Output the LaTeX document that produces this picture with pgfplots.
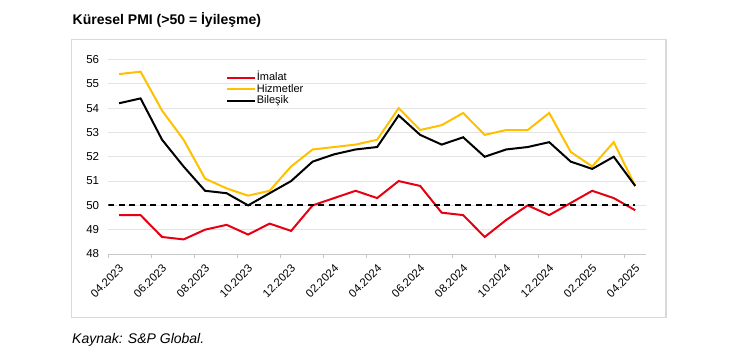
\documentclass[border=0pt]{standalone}
\usepackage{fontspec}
\setmainfont{Liberation Sans}
\usepackage{pgfplots}
\pgfplotsset{compat=1.18}
\definecolor{imalat}{RGB}{230,0,18}
\definecolor{hizmet}{RGB}{255,192,0}
\definecolor{framegray}{RGB}{217,217,217}
\definecolor{gridgray}{RGB}{228,228,228}
\definecolor{axisgray}{RGB}{200,200,200}
\begin{document}
\begin{tikzpicture}
\path[use as bounding box] (0,0) rectangle (740pt,354pt);
\draw[framegray, line width=1.5pt] (71.7pt,36.5pt) rectangle (666pt,314.7pt);
\node[anchor=base west, inner sep=0pt, font=\bfseries\fontsize{14}{16}\selectfont] at (72.5pt,329pt) {Küresel PMI (>50 = İyileşme)};
\node[anchor=base west, inner sep=0pt, font=\itshape\fontsize{14}{16}\selectfont] at (72pt,10.7pt) {Kaynak: S\&P Global.};
\begin{axis}[
  at={(108.3pt,100pt)}, anchor=south west,
  width=537.7pt, height=194.5pt, scale only axis,
  xmin=-0.5, xmax=24.5, ymin=48, ymax=56,
  ytick={48,49,...,56},
  xtick={0,2,...,24},
  xticklabels={04.2023,06.2023,08.2023,10.2023,12.2023,02.2024,04.2024,06.2024,08.2024,10.2024,12.2024,02.2025,04.2025},
  minor xtick={-0.5,1.5,...,23.5},
  major tick length=0pt,
  minor tick length=4pt,
  tick align=outside,
  minor tick style={axisgray, line width=0.8pt},
  axis x line*=bottom, axis y line*=left,
  x axis line style={axisgray, line width=0.8pt, -},
  y axis line style={draw=none},
  ymajorgrids, grid style={gridgray, line width=0.8pt},
  /pgf/number format/assume math mode=true,
  tick label style={font=\fontsize{11.5}{13}\selectfont},
  yticklabel style={anchor=east, inner sep=0pt, xshift=-9pt},
  xticklabel style={font=\fontsize{11.3}{13}\selectfont, xshift=-0.5pt, yshift=-9.5pt, rotate=45, anchor=north east, inner sep=0pt},
  legend style={at={(0.219,0.935)}, anchor=north west, draw=none, fill=none,
    font=\fontsize{11}{12}\selectfont, row sep=0pt, inner sep=0pt,
    nodes={inner sep=0.6pt, text height=8pt, text depth=2.2pt}},
  legend cell align=left,
  legend image code/.code={\draw[#1, line width=2pt] (0pt,0pt) -- (28pt,0pt);},
]
\addplot[imalat, line width=2pt] coordinates {
(0,49.6) (1,49.6) (2,48.7) (3,48.6) (4,49.0) (5,49.2) (6,48.8) (7,49.25) (8,48.95)
(9,50.0) (10,50.3) (11,50.6) (12,50.3) (13,51.0) (14,50.8) (15,49.7) (16,49.6)
(17,48.7) (18,49.4) (19,50.0) (20,49.6) (21,50.1) (22,50.6) (23,50.3) (24,49.8)};
\addlegendentry{İmalat}
\addplot[hizmet, line width=2pt] coordinates {
(0,55.4) (1,55.5) (2,53.9) (3,52.7) (4,51.1) (5,50.7) (6,50.4) (7,50.6) (8,51.6)
(9,52.3) (10,52.4) (11,52.5) (12,52.7) (13,54.0) (14,53.1) (15,53.3) (16,53.8)
(17,52.9) (18,53.1) (19,53.1) (20,53.8) (21,52.2) (22,51.6) (23,52.6) (24,50.8)};
\addlegendentry{Hizmetler}
\addplot[black, line width=2pt] coordinates {
(0,54.2) (1,54.4) (2,52.7) (3,51.6) (4,50.6) (5,50.5) (6,50.0) (7,50.5) (8,51.0)
(9,51.8) (10,52.1) (11,52.3) (12,52.4) (13,53.7) (14,52.9) (15,52.5) (16,52.8)
(17,52.0) (18,52.3) (19,52.4) (20,52.6) (21,51.8) (22,51.5) (23,52.0) (24,50.8)};
\addlegendentry{Bileşik}
\addplot[black, line width=2pt, dash pattern=on 6pt off 4.5pt, forget plot] coordinates {(-0.5,50) (24,50)};
\end{axis}
\end{tikzpicture}
\end{document}
